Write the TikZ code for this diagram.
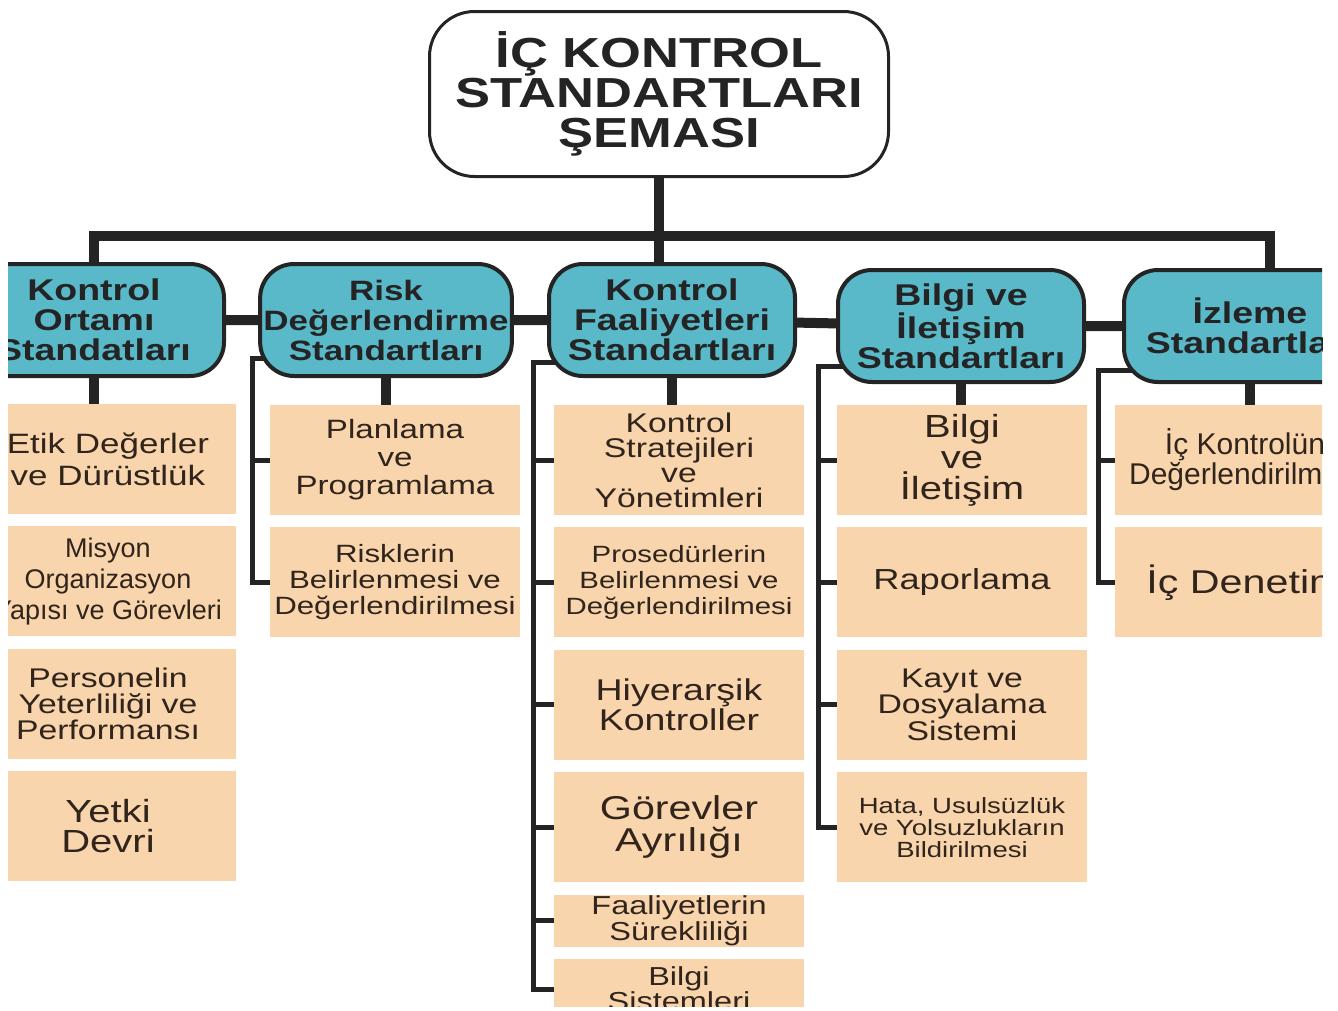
\documentclass[tikz,border=0pt]{standalone}
\usepackage{fontspec}
\setmainfont{Liberation Sans}
\newfontfamily\widefont[FakeStretch=1.25]{Liberation Sans}
\usetikzlibrary{positioning}
\pgfdeclarelayer{back}
\pgfsetlayers{back,main}
\definecolor{stdfill}{RGB}{90,185,201}
\definecolor{leaffill}{RGB}{248,213,172}
\definecolor{edge}{RGB}{36,36,36}
\definecolor{ink}{RGB}{48,36,28}
\newcommand{\leaffont}[2]{\widefont\fontsize{#1}{#2}\selectfont}
\newcommand{\plainleaf}[2]{\fontsize{#1}{#2}\selectfont}
\tikzstyle{head} = [rectangle, draw=edge, line width=3pt, fill=white, rounded corners=45pt, minimum width=459pt, minimum height=165pt, align=center, text=edge, font=\widefont\bfseries\fontsize{42}{40}\selectfont]
\tikzstyle{block} = [rectangle, draw=edge, line width=4pt, fill=stdfill, rounded corners=34pt, minimum width=246pt, minimum height=112pt, align=center, text=edge, font=\widefont\bfseries\fontsize{30}{30}\selectfont]
\tikzstyle{leaf} = [rectangle, fill=leaffill, minimum width=250pt, minimum height=110pt, inner sep=1pt, align=center, text=ink]
\tikzstyle{trunk} = [draw=edge, line width=10pt]
\tikzstyle{branch} = [draw=edge, line width=5pt]

\begin{document}
\begin{tikzpicture}[x=1pt,y=-1pt]
  \useasboundingbox (0,0) rectangle (1338,1010);
  \clip (8,0) rectangle (1322,1006);

  \node[head] (top) at (659,94) {İÇ KONTROL\\STANDARTLARI\\ŞEMASI};

  % standartlar
  \node[block, minimum width=260pt] (ko) at (94,320) {Kontrol\\Ortamı\\Standatları};
  \node[block, font=\widefont\bfseries\fontsize{28}{30}\selectfont] (ri) at (386,320) {Risk\\Değerlendirme\\Standartları};
  \node[block] (kf) at (672,320) {Kontrol\\Faaliyetleri\\Standartları};
  \node[block] (bi) at (961,326) {Bilgi ve\\İletişim\\Standartları};
  \node[block, minimum width=252pt] (iz) at (1250,326) {İzleme\\Standartları};

  % kontrol ortami
  \node[leaf, minimum width=256pt, font={\leaffont{28}{32}}] (etik) at (108,459) {Etik Değerler\\ve Dürüstlük};
  \node[leaf, minimum width=256pt, font={\plainleaf{27}{31}}, below=12pt of etik] (mis) {Misyon\\Organizasyon\\Yapısı ve Görevleri};
  \node[leaf, minimum width=256pt, font={\leaffont{27}{26}}, below=12pt of mis] (per) {Personelin\\Yeterliliği ve\\Performansı};
  \node[leaf, minimum width=256pt, font={\leaffont{32}{30}}, below=12pt of per] (yet) {Yetki\\Devri};

  % risk
  \node[leaf, font={\leaffont{26.5}{28}}] (pla) at (395,460) {Planlama\\ve\\Programlama};
  \node[leaf, font={\leaffont{25}{26}}, below=12pt of pla] (rbd) {Risklerin\\Belirlenmesi ve\\Değerlendirilmesi};

  % kontrol faaliyetleri
  \node[leaf, font={\leaffont{27}{25}}] (kst) at (679,460) {Kontrol\\Stratejileri\\ve\\Yönetimleri};
  \node[leaf, font={\leaffont{23.5}{26}}, below=12pt of kst] (pro) {Prosedürlerin\\Belirlenmesi ve\\Değerlendirilmesi};
  \node[leaf, font={\leaffont{30}{27}}, below=12pt of pro] (hiy) {Hiyerarşik\\Kontroller};
  \node[leaf, font={\leaffont{33}{32}}, below=12pt of hiy] (gor) {Görevler\\Ayrılığı};
  \node[leaf, minimum height=52pt, font={\leaffont{26}{22}}, below=12pt of gor] (fsu) {Faaliyetlerin\\Sürekliliği};
  \node[leaf, minimum height=60pt, font={\leaffont{26}{22}}, below=12pt of fsu] (bsi) {Bilgi\\Sistemleri};

  % bilgi ve iletisim
  \node[leaf, font={\leaffont{32}{31}}] (bil) at (962,460) {Bilgi\\ve\\İletişim};
  \node[leaf, font={\leaffont{29}{30}}, below=12pt of bil] (rap) {Raporlama};
  \node[leaf, font={\leaffont{27}{25}}, below=12pt of rap] (kay) {Kayıt ve\\Dosyalama\\Sistemi};
  \node[leaf, font={\leaffont{22}{22}}, below=12pt of kay] (hat) {Hata, Usulsüzlük\\ve Yolsuzlukların\\Bildirilmesi};

  % izleme
  \node[leaf, minimum width=260pt, font={\plainleaf{30}{30}}] (ick) at (1245,460) {İç Kontrolün\\Değerlendirilmesi};
  \node[leaf, minimum width=260pt, font={\leaffont{33}{30}}, below=12pt of ick] (icd) {İç Denetim};

  \begin{pgfonlayer}{back}
    \coordinate (busR) at (1270,236);
    \draw[trunk] (ko) |- (busR) -- (busR |- iz);
    \draw[trunk] (top) -- (top |- kf);
    \draw[trunk] (ko) -- (ri) -- (kf) -- (bi) -- (iz);
    \foreach \s/\l in {ko/etik, ri/pla, kf/kst, bi/bil, iz/ick}
      \draw[trunk] (\s) -- (\s |- \l);

    \coordinate (rsp) at (252,358);
    \coordinate (ksp) at (533,362);
    \coordinate (bsp) at (818,366);
    \coordinate (isp) at (1098,370);
    \draw[branch] (ri |- rsp) -- (rsp) |- (rbd);
    \draw[branch] (kf |- ksp) -- (ksp) |- (bsi);
    \draw[branch] (bi |- bsp) -- (bsp) |- (hat);
    \draw[branch] (iz |- isp) -- (isp) |- (icd);
    \foreach \l/\sp in {pla/rsp, kst/ksp, pro/ksp, hiy/ksp, gor/ksp, fsu/ksp, bil/bsp, rap/bsp, kay/bsp, ick/isp}
      \draw[branch] (\l) -- (\l -| \sp);
  \end{pgfonlayer}
\end{tikzpicture}
\end{document}
